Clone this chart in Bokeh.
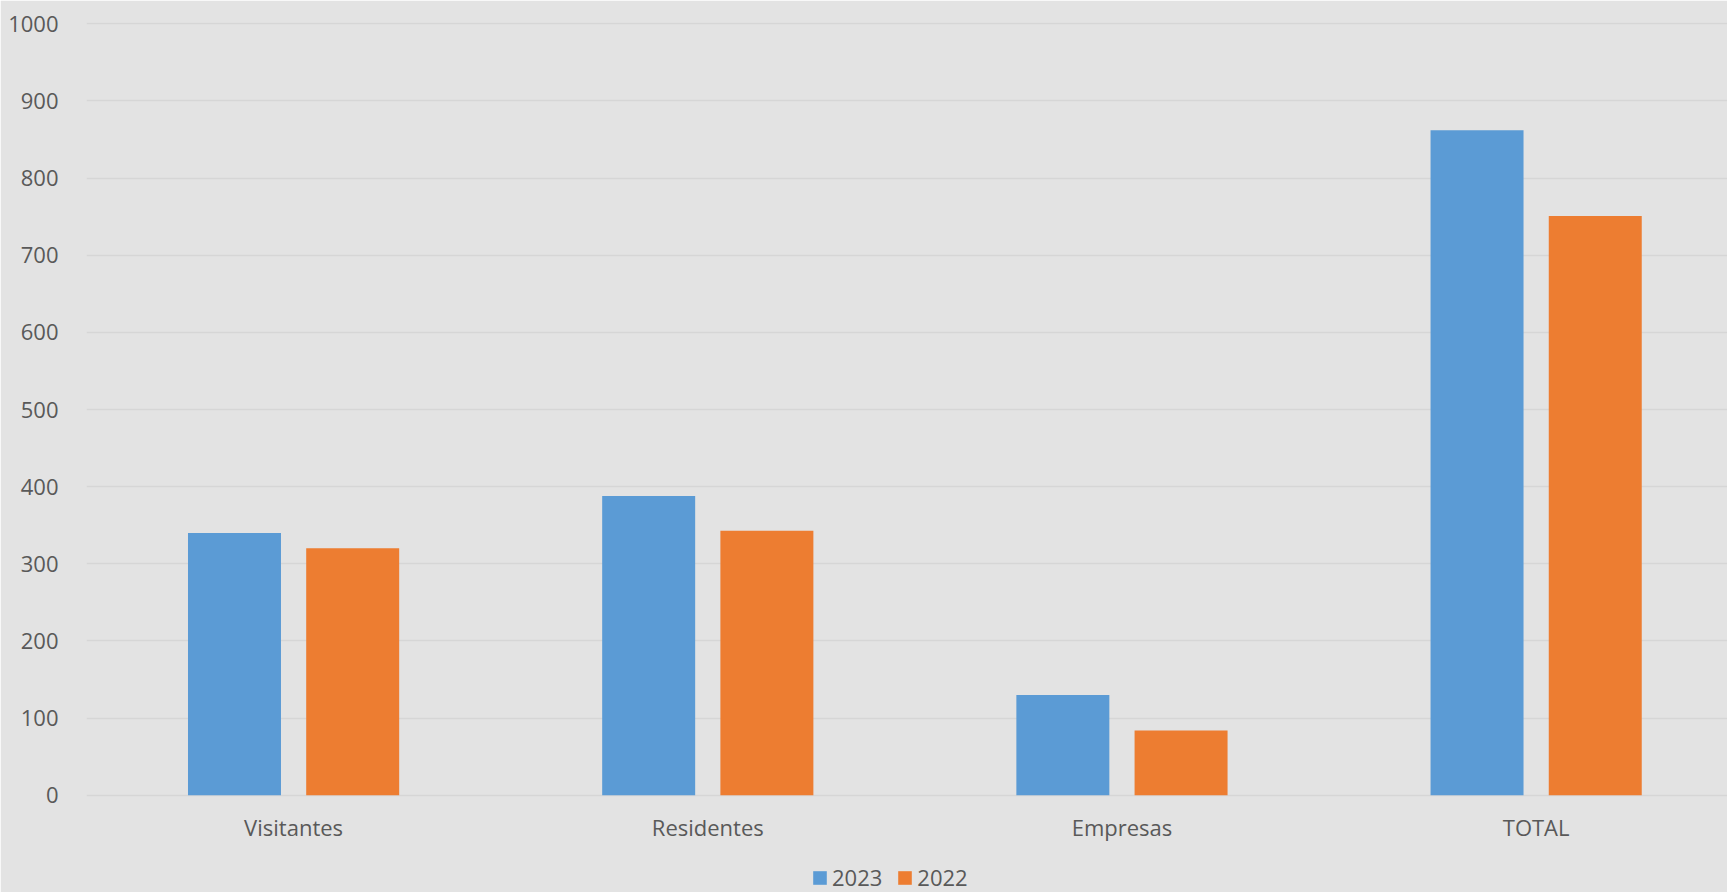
import numpy as np
from bokeh.plotting import figure
from bokeh.models import Range1d, FixedTicker, Legend, LegendItem, ColumnDataSource
from bokeh.embed import file_html
from bokeh.resources import INLINE

# ---- data ----
categories = ["Visitantes", "Residentes", "Empresas", "TOTAL"]
series_names = ["2023", "2022"]
values_2023 = [340, 388, 130, 862]
values_2022 = [320, 343, 84, 751]
y_ticks = [0, 100, 200, 300, 400, 500, 600, 700, 800, 900, 1000]

# ---- style ----
BG = "#E3E3E3"
GRID = "#D6D6D6"
TXT = "#595959"
BLUE = "#5B9BD5"
ORANGE = "#ED7D31"
FONT = "Open Sans"
FS = "22px"

centers = np.arange(len(categories)) + 0.5
bar_w = 0.2245
off = 0.1427

src = ColumnDataSource(dict(
    x1=centers - off, x2=centers + off,
    v1=values_2023, v2=values_2022,
))

# frame extends to the bottom of the canvas so that the legend can sit in it;
# value 0 lands at the same place as in the reference (y ~ 795 px)
p = figure(width=1727, height=892, output_backend="svg", toolbar_location=None,
           x_range=Range1d(0, 3.962), y_range=Range1d(-126.1, 1001.7),
           min_border_left=86, min_border_right=0, min_border_top=22,
           min_border_bottom=0,
           background_fill_color=BG, border_fill_color=BG,
           outline_line_color=BG, outline_line_width=2)

r1 = p.vbar(x="x1", top="v1", width=bar_w, bottom=0, source=src,
            fill_color=BLUE, line_color=None)
r2 = p.vbar(x="x2", top="v2", width=bar_w, bottom=0, source=src,
            fill_color=ORANGE, line_color=None)

# grid
p.xgrid.visible = False
p.ygrid.ticker = FixedTicker(ticks=y_ticks)
p.ygrid.grid_line_color = GRID
p.ygrid.grid_line_width = 1.5

# y axis
ya = p.yaxis[0]
ya.ticker = FixedTicker(ticks=y_ticks)
ya.axis_line_color = None
ya.major_tick_line_color = None
ya.minor_tick_line_color = None
ya.major_label_standoff = 22
ya.major_label_text_font = FONT
ya.major_label_text_font_size = FS
ya.major_label_text_color = TXT

# x axis, pinned at value 0
xa = p.xaxis[0]
xa.fixed_location = 0
xa.ticker = FixedTicker(ticks=list(centers))
xa.major_label_overrides = {float(c): n for c, n in zip(centers, categories)}
xa.axis_line_color = None
xa.major_tick_line_color = None
xa.minor_tick_line_color = None
xa.major_tick_out = 0
xa.major_label_standoff = 17
xa.major_label_text_font = FONT
xa.major_label_text_font_size = FS
xa.major_label_text_color = TXT

legend = Legend(items=[LegendItem(label=series_names[0], renderers=[r1]),
                       LegendItem(label=series_names[1], renderers=[r2])],
                location=(725, 0), orientation="horizontal",
                glyph_width=17, glyph_height=17, label_standoff=4, spacing=14,
                padding=0, margin=0, border_line_color=None,
                background_fill_alpha=0,
                label_text_font=FONT, label_text_font_size=FS,
                label_text_color=TXT)
p.add_layout(legend)

open("out.html", "w").write(file_html(p, INLINE))
